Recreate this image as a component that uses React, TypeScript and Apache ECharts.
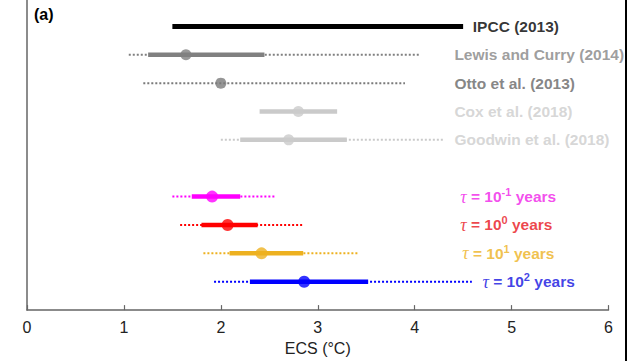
import React, { useEffect, useRef } from "react";
import * as echarts from "echarts";

const rowNames = [
  "IPCC (2013)",
  "Lewis and Curry (2014)",
  "Otto et al. (2013)",
  "Cox et al. (2018)",
  "Goodwin et al. (2018)",
  "τ = 10^-1 years",
  "τ = 10^0 years",
  "τ = 10^1 years",
  "τ = 10^2 years",
];
const tauExp = [null, null, null, null, null, "-1", "0", "1", "2"];
const rowY = [10, 9, 8, 7, 6, 4, 3, 2, 1];
const best = [null, 1.64, 2.0, 2.8, 2.7, 1.91, 2.07, 2.42, 2.86];
const likelyLo = [1.5, 1.25, null, 2.4, 2.2, 1.7, 1.8, 2.09, 2.3];
const likelyHi = [4.5, 2.45, null, 3.2, 3.3, 2.2, 2.38, 2.85, 3.52];
const veryLo = [null, 1.05, 1.2, null, 2.0, 1.5, 1.58, 1.82, 1.93];
const veryHi = [null, 4.05, 3.9, null, 4.3, 2.57, 2.85, 3.42, 4.59];
const labelX = [4.6, 4.41, 4.41, 4.41, 4.41, 4.47, 4.47, 4.49, 4.7];
const lineColors = ["#000000", "#808080", "#7a7a7a", "#cacaca", "#cacaca", "#ff00ff", "#ff0000", "#edb120", "#0000ff"];
const textColors = ["#000000", "#858585", "#666666", "#cccccc", "#cccccc", "#f020e8", "#e8141b", "#edb120", "#1010e0"];
const xTicks = [0, 1, 2, 3, 4, 5, 6];

export default function App() {
  const ref = useRef<HTMLDivElement>(null);
  useEffect(() => {
    if (!ref.current) return;
    const chart = echarts.init(ref.current, null, { renderer: "svg" });
    const series: any[] = [];
    rowNames.forEach((name, i) => {
      const y = rowY[i];
      const c = lineColors[i];
      if (veryLo[i] != null && veryHi[i] != null) {
        series.push({
          type: "line",
          data: [[veryLo[i], y], [veryHi[i], y]],
          symbol: "none",
          lineStyle: { color: c, width: 2, type: [2, 2], cap: "butt" },
          silent: true,
          z: 2,
        });
      }
      if (likelyLo[i] != null && likelyHi[i] != null) {
        series.push({
          type: "line",
          data: [[likelyLo[i], y], [likelyHi[i], y]],
          symbol: "none",
          lineStyle: { color: c, width: i === 0 ? 5 : 4.5, cap: "butt" },
          silent: true,
          z: 3,
        });
      }
      if (best[i] != null) {
        series.push({
          type: "scatter",
          data: [[best[i], y]],
          symbol: "circle",
          symbolSize: i >= 5 ? 12 : 11,
          itemStyle: { color: c },
          silent: true,
          z: 4,
        });
      }
    });
    series.push({
      type: "scatter",
      symbolSize: 0,
      silent: true,
      z: 5,
      data: rowNames.map((n, i) => ({ value: [labelX[i], rowY[i]], idx: i })),
      label: {
        show: true,
        position: "right",
        distance: 0,
        formatter: (p: any) => {
          const i = p.dataIndex;
          if (tauExp[i] != null) {
            return `{t${i}|τ}{b${i}| = 10}{s${i}|${tauExp[i]}}{b${i}| years}`;
          }
          return `{n${i}|${rowNames[i]}}`;
        },
        rich: Object.fromEntries(
          rowNames.flatMap((_, i) => [
            [`n${i}`, { color: textColors[i], fontSize: 15.5, fontWeight: "bold", fontFamily: "Liberation Sans" }],
            [`b${i}`, { color: textColors[i], fontSize: 15.5, fontWeight: "bold", fontFamily: "Liberation Sans", lineHeight: 20 }],
            [`t${i}`, { color: textColors[i], fontSize: 18, fontStyle: "italic", fontFamily: "Liberation Serif", lineHeight: 20 }],
            [`s${i}`, { color: textColors[i], fontSize: 11, fontWeight: "bold", fontFamily: "Liberation Sans", verticalAlign: "top", lineHeight: 10 }],
          ])
        ),
      },
    });
    chart.setOption({
      animation: false,
      grid: { left: 27, right: 18.5, top: 0, bottom: 48 },
      xAxis: {
        type: "value",
        min: 0,
        max: 6,
        interval: 1,
        name: "ECS (°C)",
        nameLocation: "middle",
        nameGap: 29,
        nameTextStyle: { fontSize: 16, color: "#222", fontFamily: "Liberation Sans" },
        axisLine: { lineStyle: { color: "#666", width: 1.5 } },
        axisTick: { inside: true, length: 5, lineStyle: { color: "#666", width: 1.2 } },
        axisLabel: {
          fontSize: 16,
          color: "#222",
          fontFamily: "Liberation Sans",
          margin: 9,
          formatter: (v: number) => (xTicks.includes(v) ? String(v) : ""),
        },
        splitLine: { show: false },
      },
      yAxis: {
        type: "value",
        min: 0,
        max: 10.93,
        axisLine: { show: true, lineStyle: { color: "#666", width: 1.5 } },
        axisTick: { show: false },
        axisLabel: { show: false },
        splitLine: { show: false },
      },
      graphic: [
        {
          type: "text",
          left: 34,
          top: 6,
          style: { text: "(a)", fontSize: 16, fontWeight: "bold", fill: "#000", fontFamily: "Liberation Sans" },
        },
        {
          type: "rect",
          shape: { x: 625, y: 0, width: 2, height: 361 },
          style: { fill: "#000" },
        },
      ],
      series,
    });
    return () => chart.dispose();
  }, []);
  return (
    <div
      ref={ref}
      style={{ position: "fixed", left: 0, top: 0, width: 627, height: 361, background: "#fff" }}
    />
  );
}
